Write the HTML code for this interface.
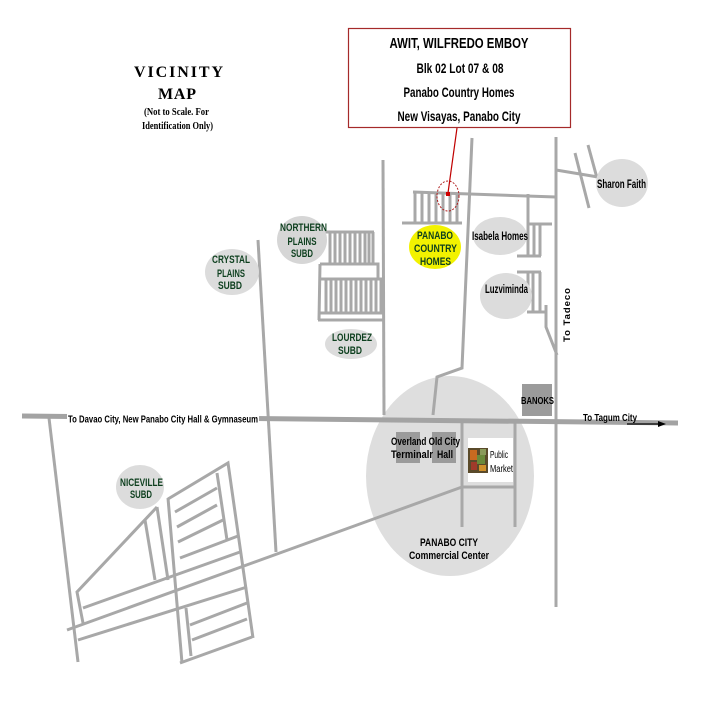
<!DOCTYPE html>
<html><head><meta charset="utf-8"><style>
html,body{margin:0;padding:0;background:#fff;}
svg{display:block;}
text{font-family:"Liberation Sans",sans-serif;font-weight:bold;}
.g{fill:#0d3f1e;}
.k{fill:#000;}
</style></head><body>
<svg width="720" height="720" viewBox="0 0 720 720" xmlns="http://www.w3.org/2000/svg">
<rect width="720" height="720" fill="#fff"/>
<!-- commercial center -->
<ellipse cx="450" cy="476" rx="84" ry="100" fill="#dedede"/>
<!-- roads -->
<g stroke="#a8a8a8" stroke-width="3" fill="none" stroke-linecap="butt">
<path d="M49,418 L78,662"/>
<path d="M258,240 L276,552"/>
<path d="M383,160 L384,415"/>
<path d="M472,138 L462,368 L437,377 L433,415"/>
<path d="M556,137 L556,607"/>
<path d="M413,192 L556,197"/>
<!-- Isabela block -->
<path d="M528,194 L528,257 M528,224 L552,224 M534,224 L534,256 M540,224 L540,256 M517,256 L541,256"/>
<!-- Luzviminda block -->
<path d="M517,272 L541,272 M528,272 L528,305 M533,272 L533,312 M540,272 L540,312 M527,312 L547,312 M546,305 L546,327 L557,355"/>
<!-- Sharon -->
<path d="M556,170 L598,177 M575,153 L589,208 M588,145 L597,178"/>
<!-- main diagonal -->
<path d="M67,630 L462,487"/>
<!-- commercial internal -->
<path d="M462,420 L462,527 M515,420 L515,527 M462,487 L515,487"/>
<!-- PCH block -->
<path d="M402,223 L462,223 M415,192 L415,223 M422,192 L422,223 M429,192 L429,223 M436,192 L436,223 M443,192 L443,223 M450,192 L450,223 M457,192 L457,223"/>
<!-- Northern block -->
<path d="M325,232 L374,232 M373,232 L373,263 M330,232 L330,263 M335,232 L335,263 M340,232 L340,263 M345,232 L345,263 M350,232 L350,263 M355,232 L355,263 M360,232 L360,263 M365,232 L365,263 M369,232 L369,263"/>
<path d="M320,264 L378,264 L378,279 M320,264 L319,320 M321,279 L383,279 M318,313 L383,313 M318,320 L383,320"/>
<path d="M326,279 L326,313 M331,279 L331,313 M336,279 L336,313 M341,279 L341,313 M346,279 L346,313 M351,279 L351,313 M356,279 L356,313 M361,279 L361,313 M366,279 L366,313 M371,279 L371,313 M376,279 L376,313 M381,279 L381,313"/>
<!-- Niceville -->
<path d="M168,499 L228,463 L253,638"/>
<path d="M217,473 L227,540"/>
<path d="M168,498 L182,663"/>
<path d="M157,507 L168,580"/>
<path d="M145,520 L155,580"/>
<path d="M157,507 L77,592 L83,623"/>
<path d="M175,512 L217,488 M177,527 L217,505 M178,542 L223,520 M180,558 L238,536"/>
<path d="M83,608 L240,552"/>
<path d="M78,640 L247,587"/>
<path d="M186,608 L191,656 M190,625 L247,603 M192,640 L247,619 M180,663 L252,637"/>
</g>
<!-- main road -->
<path d="M22,416 L678,423" stroke="#a3a3a3" stroke-width="5" fill="none"/>
<!-- gray buildings -->
<rect x="522" y="384" width="30" height="32" fill="#9b9b9b"/>
<rect x="396" y="432" width="24" height="31" fill="#9b9b9b"/>
<rect x="432" y="432" width="24" height="31" fill="#9b9b9b"/>
<!-- public market -->
<rect x="468" y="438" width="45" height="44" fill="#fff"/>
<rect x="468" y="448" width="20" height="25" fill="#5a4a2a"/>
<rect x="470" y="450" width="7" height="10" fill="#c86a20"/>
<rect x="477" y="455" width="8" height="9" fill="#6a8a3a"/>
<rect x="471" y="462" width="6" height="8" fill="#a03a2a"/>
<rect x="480" y="449" width="6" height="6" fill="#8a9a5a"/>
<rect x="479" y="465" width="7" height="6" fill="#d0902a"/>
<text x="490" y="458" font-size="10" font-weight="normal" textLength="18" lengthAdjust="spacingAndGlyphs" class="k" style="font-weight:normal">Public</text>
<text x="490" y="472" font-size="10" textLength="23" lengthAdjust="spacingAndGlyphs" class="k" style="font-weight:normal">Market</text>
<!-- subdivision ellipses -->
<ellipse cx="232" cy="272" rx="27" ry="23" fill="#dcdcdc"/>
<ellipse cx="302" cy="240" rx="25" ry="24" fill="#d6d6d6"/>
<ellipse cx="351" cy="344" rx="26" ry="15" fill="#dcdcdc"/>
<ellipse cx="435" cy="247" rx="26" ry="22" fill="#f2f200"/>
<ellipse cx="500" cy="236" rx="27" ry="19" fill="#dcdcdc"/>
<ellipse cx="506" cy="296" rx="26" ry="23" fill="#dcdcdc"/>
<ellipse cx="622" cy="183" rx="26" ry="24" fill="#dcdcdc"/>
<ellipse cx="140" cy="487" rx="24" ry="22" fill="#dcdcdc"/>
<!-- red marker -->
<line x1="457" y1="128" x2="448" y2="193" stroke="#c00000" stroke-width="1.2"/>
<ellipse cx="448" cy="196" rx="11" ry="15" fill="none" stroke="#b02020" stroke-width="1" stroke-dasharray="2,1.5"/>
<rect x="446" y="192" width="4" height="4" fill="#d00000"/>
<!-- box -->
<rect x="348.5" y="28.5" width="222" height="99" fill="#fff" stroke="#a52a2a" stroke-width="1.2"/>
<g text-anchor="middle" class="k">
<text x="459" y="48" font-size="15" textLength="139" lengthAdjust="spacingAndGlyphs">AWIT, WILFREDO EMBOY</text>
<text x="460" y="73" font-size="14" textLength="87" lengthAdjust="spacingAndGlyphs">Blk 02 Lot  07 &amp; 08</text>
<text x="459" y="97" font-size="14" textLength="111" lengthAdjust="spacingAndGlyphs">Panabo Country Homes</text>
<text x="459" y="121" font-size="14" textLength="123" lengthAdjust="spacingAndGlyphs">New Visayas, Panabo City</text>
</g>
<!-- title -->
<g text-anchor="middle" class="k" style="font-family:'Liberation Serif',serif">
<text x="178.5" y="77" font-size="16" textLength="89" lengthAdjust="spacing" style="font-family:'Liberation Serif',serif">VICINITY</text>
<text x="177" y="99" font-size="16" textLength="38" lengthAdjust="spacing" style="font-family:'Liberation Serif',serif">MAP</text>
<text x="176.5" y="115" font-size="11" textLength="65" lengthAdjust="spacingAndGlyphs" style="font-family:'Liberation Serif',serif">(Not to Scale. For</text>
<text x="177.5" y="129" font-size="11" textLength="71" lengthAdjust="spacingAndGlyphs" style="font-family:'Liberation Serif',serif">Identification Only)</text>
</g>
<!-- green labels -->
<g text-anchor="middle" class="g" font-size="11">
<text x="231" y="263" textLength="38" lengthAdjust="spacingAndGlyphs">CRYSTAL</text>
<text x="231" y="277" textLength="28" lengthAdjust="spacingAndGlyphs">PLAINS</text>
<text x="230" y="289" textLength="24" lengthAdjust="spacingAndGlyphs">SUBD</text>
<text x="303.5" y="231" textLength="47" lengthAdjust="spacingAndGlyphs">NORTHERN</text>
<text x="302" y="245" textLength="29" lengthAdjust="spacingAndGlyphs">PLAINS</text>
<text x="302" y="257" textLength="22" lengthAdjust="spacingAndGlyphs">SUBD</text>
<text x="352" y="341" textLength="40" lengthAdjust="spacingAndGlyphs">LOURDEZ</text>
<text x="350" y="354" textLength="24" lengthAdjust="spacingAndGlyphs">SUBD</text>
<text x="435" y="239" textLength="36" lengthAdjust="spacingAndGlyphs">PANABO</text>
<text x="435.5" y="252" textLength="43" lengthAdjust="spacingAndGlyphs">COUNTRY</text>
<text x="435.5" y="265" textLength="31" lengthAdjust="spacingAndGlyphs">HOMES</text>
<text x="141.5" y="486" textLength="43" lengthAdjust="spacingAndGlyphs">NICEVILLE</text>
<text x="141" y="498" textLength="22" lengthAdjust="spacingAndGlyphs">SUBD</text>
</g>
<!-- black labels -->
<g text-anchor="middle" class="k">
<text x="500" y="240" font-size="11.5" textLength="56" lengthAdjust="spacingAndGlyphs">Isabela Homes</text>
<text x="506.5" y="293" font-size="11.5" textLength="43" lengthAdjust="spacingAndGlyphs">Luzviminda</text>
<text x="621.5" y="188" font-size="12" textLength="49" lengthAdjust="spacingAndGlyphs">Sharon Faith</text>
<text x="537.5" y="404" font-size="10.5" textLength="33" lengthAdjust="spacingAndGlyphs">BANOKS</text>
<text x="425.5" y="445" font-size="11" textLength="69" lengthAdjust="spacingAndGlyphs">Overland Old City</text>
<text x="412" y="458" font-size="11" textLength="42" lengthAdjust="spacingAndGlyphs">Terminalr</text>
<text x="445" y="458" font-size="11" textLength="16" lengthAdjust="spacingAndGlyphs">Hall</text>
<text x="449" y="546" font-size="11" textLength="58" lengthAdjust="spacingAndGlyphs">PANABO CITY</text>
<text x="449" y="559" font-size="11" textLength="80" lengthAdjust="spacingAndGlyphs">Commercial Center</text>
</g>
<!-- road labels -->
<rect x="67" y="412" width="192" height="11" fill="#fff"/>
<text x="68" y="422.5" font-size="10" textLength="190" lengthAdjust="spacingAndGlyphs" class="k">To Davao City, New Panabo City Hall &amp; Gymnaseum</text>
<text x="583" y="421" font-size="10" textLength="54" lengthAdjust="spacingAndGlyphs" class="k">To Tagum City</text>
<line x1="627" y1="424" x2="660" y2="424" stroke="#000" stroke-width="1.2"/>
<polygon points="666,424 658,421 658,427" fill="#000"/>
<text transform="translate(570,315) rotate(-90)" x="0" y="0" text-anchor="middle" font-size="9.5" textLength="54" lengthAdjust="spacing" class="k">To Tadeco</text>
</svg>
</body></html>
